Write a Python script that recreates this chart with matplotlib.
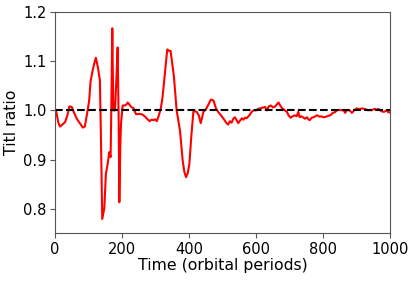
import numpy as np
import matplotlib
matplotlib.use("Agg")
import matplotlib.pyplot as plt

# tilt ratio vs time
time = [3, 10, 15, 22, 30, 37, 43, 50, 57, 65, 74, 83, 89, 96, 102, 106, 112, 117, 122,
        128, 134, 137, 141, 147, 152, 157, 162, 166, 169, 171, 174, 179, 183, 187, 190,
        192, 195, 197, 202, 209, 213, 217, 224, 229, 234, 238, 242, 250, 259, 264, 269,
        276, 282, 288, 294, 299, 304, 310, 316, 321, 328, 335, 340, 345, 350, 355, 363,
        368, 373, 381, 386, 391, 396, 401, 407, 413, 418, 423, 429, 435, 443, 451, 458,
        465, 473, 481, 488, 495, 502, 508, 512, 517, 522, 527, 532, 537, 542, 547, 553,
        558, 562, 567, 572, 580, 587, 593, 600, 606, 612, 617, 622, 627, 632, 638, 644,
        650, 657, 662, 667, 672, 677, 684, 692, 697, 703, 709, 716, 721, 726, 730, 735,
        740, 746, 752, 756, 760, 766, 772, 777, 782, 790, 795, 801, 808, 816, 822, 829,
        835, 841, 848, 856, 861, 866, 872, 879, 886, 893, 900, 905, 910, 916, 922, 928,
        935, 940, 945, 950, 955, 960, 965, 970, 975, 982, 990, 995, 999]
ratio = [1.000, 0.975, 0.967, 0.971, 0.976, 0.990, 1.008, 1.007, 0.995, 0.983, 0.974,
         0.965, 0.967, 0.994, 1.020, 1.058, 1.080, 1.095, 1.107, 1.088, 1.061, 0.950,
         0.779, 0.800, 0.871, 0.890, 0.915, 0.905, 1.050, 1.167, 1.000, 1.000, 1.060,
         1.128, 0.980, 0.813, 0.930, 0.973, 1.010, 1.010, 1.012, 1.016, 1.010, 1.006,
         1.005, 0.998, 0.992, 0.993, 0.992, 0.990, 0.987, 0.982, 0.978, 0.981, 0.980,
         0.982, 0.978, 0.990, 1.005, 1.027, 1.075, 1.124, 1.121, 1.121, 1.095, 1.068,
         1.000, 0.980, 0.959, 0.898, 0.875, 0.864, 0.872, 0.891, 0.949, 0.997, 0.998,
         0.997, 0.990, 0.974, 0.997, 1.003, 1.012, 1.022, 1.020, 1.003, 0.996, 0.990,
         0.984, 0.978, 0.974, 0.971, 0.978, 0.975, 0.983, 0.986, 0.980, 0.974, 0.980,
         0.984, 0.981, 0.985, 0.984, 0.990, 0.997, 1.000, 1.000, 1.003, 1.004, 1.005,
         1.006, 1.007, 1.000, 1.008, 1.010, 1.006, 1.008, 1.012, 1.016, 1.010, 1.005,
         1.001, 0.997, 0.990, 0.985, 0.988, 0.990, 0.988, 0.997, 0.986, 0.988, 0.986,
         0.983, 0.986, 0.982, 0.980, 0.985, 0.986, 0.988, 0.990, 0.987, 0.988, 0.986,
         0.987, 0.989, 0.990, 0.995, 0.996, 1.000, 1.001, 1.000, 1.001, 0.995, 1.001,
         1.000, 0.995, 1.000, 1.004, 1.003, 1.003, 1.004, 1.003, 1.002, 1.000, 1.001,
         1.000, 1.002, 1.003, 1.001, 1.003, 1.000, 0.998, 0.997, 1.000, 0.996, 0.996]

fig = plt.figure(figsize=(4.15, 2.81), dpi=100)
ax = fig.add_axes([0.1325, 0.17, 0.8075, 0.787])
ax.plot(time, ratio, color='red', lw=1.5)
ax.axhline(1.0, color='black', ls='--', lw=1.5)
ax.set_xlim(0, 1000)
ax.set_ylim(0.75, 1.2)
ax.set_xticks([0, 200, 400, 600, 800, 1000])
ax.set_yticks([0.8, 0.9, 1.0, 1.1, 1.2])
ax.tick_params(labelsize=10.5, pad=2.5)
for s in ax.spines.values():
    s.set_color('#555555')
ax.tick_params(color='#555555')
ax.set_xlabel('Time (orbital periods)', fontsize=11.3, labelpad=1)
ax.set_ylabel('Titl ratio', fontsize=11.3, labelpad=3)
fig.savefig('out.png', dpi=100)
